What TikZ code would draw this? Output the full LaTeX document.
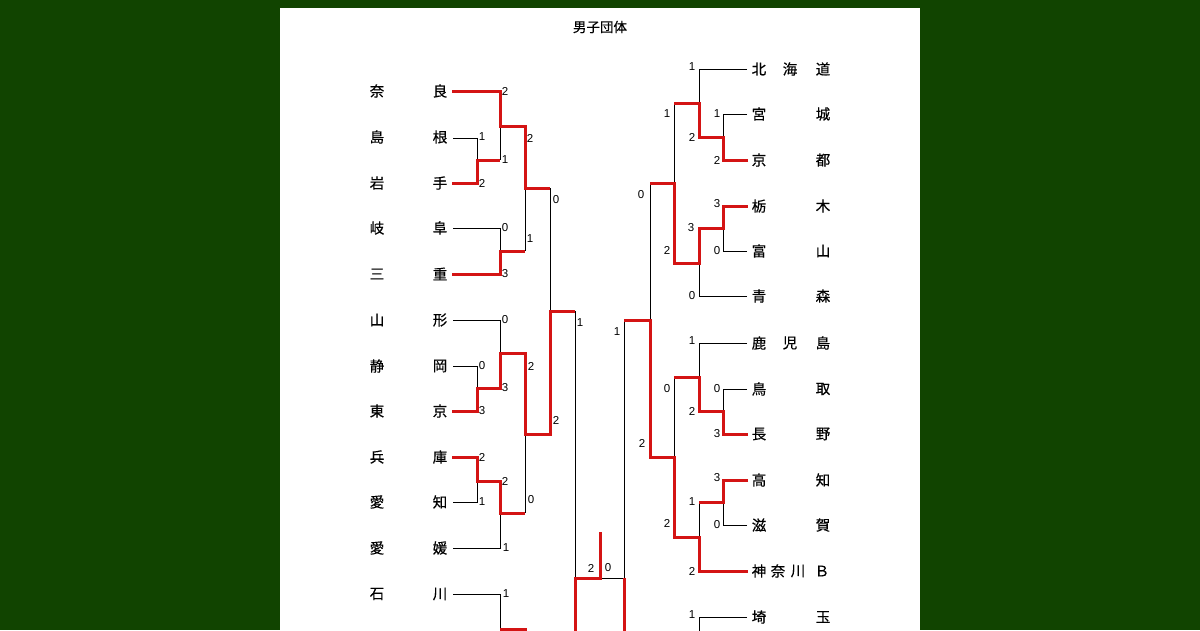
\documentclass[tikz,border=0pt]{standalone}
\usepackage{fontspec}
\setmainfont{Liberation Sans}
\newfontfamily\jp[FakeBold=0.4]{Noto Sans CJK JP}
\definecolor{bg}{RGB}{17,68,0}
\definecolor{win}{RGB}{212,20,20}
\begin{document}
\begin{tikzpicture}[x=1pt,y=-1pt,
  ln/.style={black,line width=1pt},
  wn/.style={win,line width=3pt,line join=miter},
  nm/.style={font=\jp\fontsize{14.5}{14.5}\selectfont,inner sep=0pt},
  sc/.style={font=\fontsize{11.5}{11.5}\selectfont,inner sep=0pt},
  ttl/.style={font=\jp\fontsize{13.5}{13.5}\selectfont,inner sep=0pt}]
\useasboundingbox (0,0) rectangle (1200,630);
\fill[bg] (0,0) rectangle (1200,630);
\fill[white] (280,8) rectangle (920,630);
\clip (280,8) rectangle (920,630);
\node[ttl] (title) at (600,27) {男子団体};
% left names
\foreach \i/\y/\a/\b in {1/91/奈/良,2/137/島/根,3/183/岩/手,4/228/岐/阜,5/274/三/重,6/320/山/形,7/366/静/岡,8/411/東/京,9/457/兵/庫,10/502/愛/知,11/548/愛/媛,12/594/石/川}
  {\node[nm] (la\i) at (377,\y) {\a}; \node[nm] (lb\i) at (440,\y) {\b};}
% right names
\foreach \i/\y/\a/\b/\c in {1/69/北/海/道,2/114/宮//城,3/160/京//都,4/206/栃//木,5/251/富//山,6/296/青//森,7/343/鹿/児/島,8/389/鳥//取,9/434/長//野,10/480/高//知,11/525/滋//賀,13/617/埼//玉}
  {\node[nm] (ra\i) at (759,\y) {\a}; \node[nm] (rb\i) at (790,\y) {\b}; \node[nm] (rc\i) at (823,\y) {\c};}
\node[nm] (ra12) at (759,571) {神};
\node[nm] (rb12) at (778,571) {奈};
\node[nm] (rc12) at (798,571) {川};
\node[nm] (rd12) at (822,571) {Ｂ};
% black lines
\draw[ln] (453,138)--(477,138)--(477,160);
\draw[ln] (453,228)--(500,228)--(500,251);
\draw[ln] (500,126)--(500,160);
\draw[ln] (525,188)--(525,251);
\draw[ln] (453,320)--(500,320)--(500,353);
\draw[ln] (453,366)--(477,366)--(477,388);
\draw[ln] (525,434)--(525,513);
\draw[ln] (453,502)--(477,502)--(477,481);
\draw[ln] (453,548)--(500,548)--(500,513);
\draw[ln] (453,594)--(500,594)--(500,628);
\draw[ln] (550,188)--(550,311);
\draw[ln] (575,311)--(575,578);
\draw[ln] (600,578)--(624,578);
\draw[ln] (624,320)--(624,578);
\draw[ln] (650,183)--(650,320);
\draw[ln] (674,103)--(674,183);
\draw[ln] (747,69)--(699,69)--(699,103);
\draw[ln] (747,114)--(723,114)--(723,137);
\draw[ln] (747,251)--(723,251)--(723,228);
\draw[ln] (747,296)--(699,296)--(699,263);
\draw[ln] (747,343)--(699,343)--(699,377);
\draw[ln] (747,389)--(723,389)--(723,411);
\draw[ln] (674,377)--(674,457);
\draw[ln] (747,525)--(723,525)--(723,502);
\draw[ln] (699,502)--(699,537);
\draw[ln] (747,617)--(699,617)--(699,640);
% red winner paths
\draw[wn] (452,91)--(500,91)--(500,126)--(525,126)--(525,188)--(550,188);
\draw[wn] (452,183)--(477,183)--(477,160)--(500,160);
\draw[wn] (452,274)--(500,274)--(500,251)--(525,251);
\draw[wn] (452,411)--(477,411)--(477,388)--(500,388)--(500,353)--(525,353)--(525,434)--(550,434)--(550,311)--(575,311);
\draw[wn] (452,457)--(477,457)--(477,481)--(500,481)--(500,513)--(525,513);
\draw[wn] (500,629)--(525,629)--(525,640);
\draw[wn] (575,640)--(575,578)--(600,578)--(600,532);
\draw[wn] (624,578)--(624,640);
\draw[wn] (624,320)--(650,320)--(650,457)--(674,457)--(674,537)--(699,537)--(699,571)--(748,571);
\draw[wn] (650,183)--(674,183)--(674,263)--(699,263)--(699,228)--(723,228)--(723,206)--(748,206);
\draw[wn] (748,160)--(723,160)--(723,137)--(699,137)--(699,103)--(674,103);
\draw[wn] (748,434)--(723,434)--(723,411)--(699,411)--(699,377)--(674,377);
\draw[wn] (748,480)--(723,480)--(723,502)--(699,502);
% scores
\foreach \x/\y/\s [count=\k] in {505/91/2,482/137/1,482/183/2,505/160/1,530/138/2,556/200/0,505/228/0,505/274/3,530/239/1,580/323/1,505/320/0,482/366/0,482/411/3,505/388/3,531/366/2,556/420/2,482/457/2,482/502/1,505/481/2,531/500/0,506/548/1,506/594/1,591/568/2,608/568/0,692/67/1,667/114/1,717/114/1,717/160/2,692/137/2,641/195/0,717/204/3,717/251/0,691/228/3,667/250/2,692/296/0,617/332/1,692/341/1,667/389/0,717/389/0,717/434/3,692/411/2,642/443/2,717/478/3,717/525/0,692/502/1,667/523/2,692/571/2,692/615/1}
  {\node[sc] (sc\k) at (\x,\y) {\s};}
\end{tikzpicture}
\end{document}
